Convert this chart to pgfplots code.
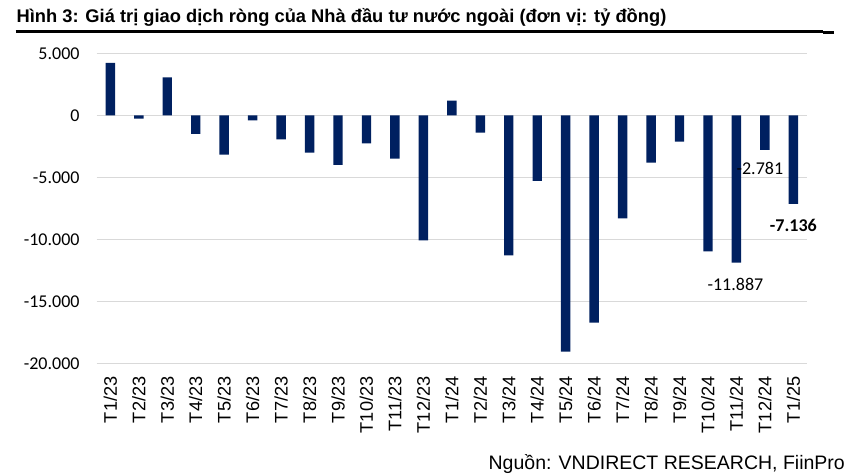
\documentclass[border=0pt]{standalone}
\usepackage{fontspec}
\setmainfont{Liberation Sans}
\newfontfamily\calfont{Carlito}
\usepackage{pgfplots}
\pgfplotsset{compat=1.18}
\definecolor{navy}{HTML}{002060}
\definecolor{gridgray}{HTML}{D9D9D9}
\begin{document}
\begin{tikzpicture}
\useasboundingbox (0,0) rectangle (850bp,-476bp);
\node[anchor=base west, inner sep=0pt, font=\fontsize{18.3bp}{20bp}\selectfont\bfseries] at (16.5bp,-22.7bp)
  {Hình 3: Giá trị giao dịch ròng của Nhà đầu tư nước ngoài (đơn vị: tỷ đồng)};
\draw[line width=3.3bp] (15.7bp,-31.6bp) -- (823bp,-31.6bp);
\fill (823bp,-31bp) rectangle (834bp,-34bp);
\begin{axis}[
  at={(96.7bp,-363.3bp)}, anchor=south west,
  scale only axis, width=710.3bp, height=310bp,
  xmin=-0.48, xmax=24.48, ymin=-20000, ymax=5000,
  axis line style={draw=none},
  major tick length=0pt,
  scaled y ticks=false,
  ytick={-20000,-15000,-10000,-5000,0,5000},
  yticklabels={-20.000,-15.000,-10.000,-5.000,0,5.000},
  ymajorgrids, grid style={gridgray, line width=1.5bp},
  xtick={0,...,24},
  xticklabels={T1/23,T2/23,T3/23,T4/23,T5/23,T6/23,T7/23,T8/23,T9/23,T10/23,T11/23,T12/23,T1/24,T2/24,T3/24,T4/24,T5/24,T6/24,T7/24,T8/24,T9/24,T10/24,T11/24,T12/24,T1/25},
  xticklabel style={font=\fontsize{18.2bp}{19bp}\selectfont, rotate=90, anchor=east, inner sep=0pt, xshift=-13bp},
  yticklabel style={font=\calfont\fontsize{18bp}{20bp}\selectfont, anchor=east, inner sep=0pt, xshift=-17bp},
  clip=false,
]
\addplot[ybar, bar width=0.33, fill=navy, draw=none] coordinates {
(0,4220) (1,-270) (2,3065) (3,-1505) (4,-3172) (5,-403) (6,-1935) (7,-3011) (8,-4005) (9,-2258) (10,-3495) (11,-10081)
(12,1183) (13,-1398) (14,-11290) (15,-5296) (16,-19059) (17,-16720) (18,-8306) (19,-3817) (20,-2124) (21,-10968) (22,-11887) (23,-2781) (24,-7136)
};
\node[font=\calfont\fontsize{18bp}{20bp}\selectfont, inner sep=0pt] at (axis cs:23,-2781) [xshift=-5bp, yshift=-19bp] {-2.781};
\node[font=\calfont\fontsize{18bp}{20bp}\selectfont, inner sep=0pt] at (axis cs:22,-11887) [xshift=-1bp, yshift=-22bp] {-11.887};
\node[font=\calfont\fontsize{18bp}{20bp}\selectfont\bfseries, inner sep=0pt] at (axis cs:24,-7136) [xshift=0bp, yshift=-22bp] {-7.136};
\end{axis}
\node[anchor=base east, inner sep=0pt, font=\fontsize{19.5bp}{21bp}\selectfont] at (845bp,-469bp) {Nguồn: VNDIRECT RESEARCH, FiinPro};
\end{tikzpicture}
\end{document}
